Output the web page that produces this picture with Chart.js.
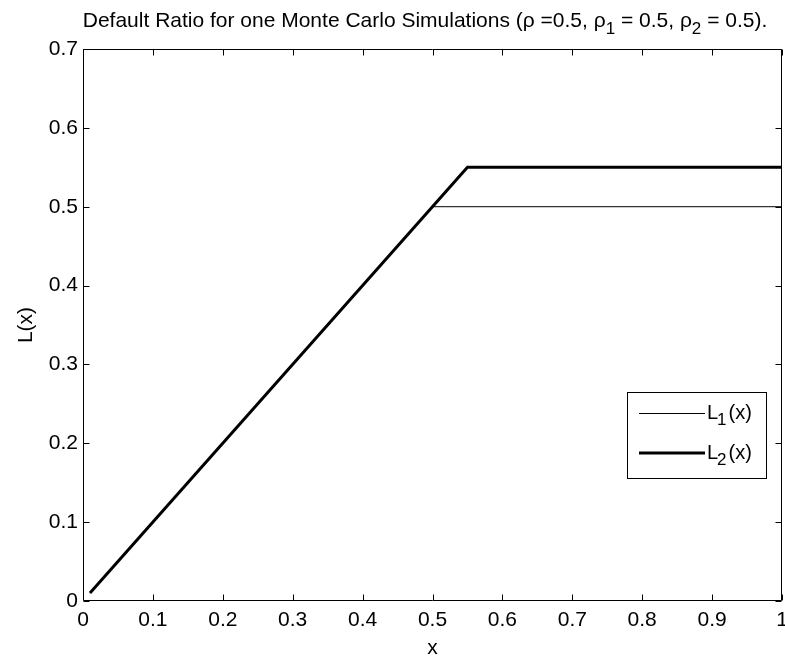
<!DOCTYPE html>
<html><head><meta charset="utf-8">
<script src="https://cdn.jsdelivr.net/npm/chart.js@4"></script>
<style>html,body{margin:0;padding:0;background:#fff}#wrap{width:785px;height:661px}canvas{display:block}</style>
</head><body><div id="wrap"><canvas id="c" width="785" height="661"></canvas></div>
<script>
const xTicks = [0, 0.1, 0.2, 0.3, 0.4, 0.5, 0.6, 0.7, 0.8, 0.9, 1];
const yTicks = [0, 0.1, 0.2, 0.3, 0.4, 0.5, 0.6, 0.7];
const xTickLabels = ['0', '0.1', '0.2', '0.3', '0.4', '0.5', '0.6', '0.7', '0.8', '0.9', '1'];
const yTickLabels = ['0', '0.1', '0.2', '0.3', '0.4', '0.5', '0.6', '0.7'];
const L1_x = [0.01, 0.5, 1];
const L1_y = [0.01, 0.5, 0.5];
const L2_x = [0.01, 0.55, 1];
const L2_y = [0.01, 0.55, 0.55];
const seriesNames = ['L1(x)', 'L2(x)'];
const titleParts = [
  ['Default Ratio for one Monte Carlo Simulations (\u03C1 =0.5, \u03C1', false],
  ['1', true],
  [' = 0.5, \u03C1', false],
  ['2', true],
  [' = 0.5).', false]
];
const xTitle = 'x';
const yTitle = 'L(x)';

const FONT = '"Liberation Sans", Arial, sans-serif';
const FS = 21;

function pts(xs, ys) { return xs.map((x, i) => ({x: x, y: ys[i]})); }

const framePlugin = {
  id: 'frame',
  afterDraw(chart) {
    const ctx = chart.ctx;
    const a = chart.chartArea;
    const xs = chart.scales.x, ys = chart.scales.y;
    ctx.save();
    ctx.strokeStyle = '#000';
    ctx.lineWidth = 1;
    ctx.beginPath();
    const L = Math.round(a.left) + 0.5, R = Math.round(a.right) - 0.5;
    const T = Math.round(a.top) + 0.5, B = Math.round(a.bottom) - 0.5;
    ctx.rect(L, T, R - L, B - T);
    const tl = 6;
    xTicks.forEach(v => {
      const px = Math.round(xs.getPixelForValue(v)) + 0.5;
      ctx.moveTo(px, B); ctx.lineTo(px, B - tl);
      ctx.moveTo(px, T); ctx.lineTo(px, T + tl);
    });
    yTicks.forEach(v => {
      const py = Math.round(ys.getPixelForValue(v)) + 0.5;
      ctx.moveTo(L, py); ctx.lineTo(L + tl, py);
      ctx.moveTo(R, py); ctx.lineTo(R - tl, py);
    });
    ctx.stroke();

    // title with subscripts
    const big = FS + 'px ' + FONT, small = Math.round(FS * 0.82) + 'px ' + FONT;
    let total = 0;
    titleParts.forEach(([t, sub]) => { ctx.font = sub ? small : big; total += ctx.measureText(t).width; });
    let x = 425 - total / 2;
    const ty = 21;
    ctx.fillStyle = '#000';
    ctx.textBaseline = 'middle';
    ctx.textAlign = 'left';
    titleParts.forEach(([t, sub]) => {
      ctx.font = sub ? small : big;
      ctx.fillText(t, x, sub ? ty + 8 : ty);
      x += ctx.measureText(t).width;
    });

    // legend
    const bx = 627.5, by = 392.5, bw = 139, bh = 86;
    ctx.fillStyle = '#fff';
    ctx.fillRect(bx, by, bw, bh);
    ctx.lineWidth = 1;
    ctx.strokeStyle = '#000';
    ctx.strokeRect(bx, by, bw, bh);
    const lfs = 20;
    const lbig = lfs + 'px ' + FONT, lsmall = Math.round(lfs * 0.85) + 'px ' + FONT;
    const rows = [[413, 1, '1'], [453, 3, '2']];
    rows.forEach(([y, w, s]) => {
      ctx.lineWidth = w;
      ctx.beginPath();
      ctx.moveTo(639, y + (w === 1 ? 0.5 : 0));
      ctx.lineTo(705, y + (w === 1 ? 0.5 : 0));
      ctx.stroke();
      ctx.fillStyle = '#000';
      ctx.textBaseline = 'middle';
      let tx = 707;
      ctx.font = lbig;
      ctx.fillText('L', tx, y); tx += ctx.measureText('L').width - 1;
      ctx.font = lsmall;
      ctx.fillText(s, tx, y + 7); tx += ctx.measureText(s).width;
      ctx.font = lbig;
      ctx.fillText('(x)', tx + 2, y);
    });
    ctx.restore();
  }
};

new Chart(document.getElementById('c'), {
  type: 'scatter',
  data: {
    datasets: [
      { label: seriesNames[0], data: pts(L1_x, L1_y), showLine: true, borderColor: '#000', borderWidth: 1, pointRadius: 0, tension: 0, fill: false, order: 1 },
      { label: seriesNames[1], data: pts(L2_x, L2_y), showLine: true, borderColor: '#000', borderWidth: 3, pointRadius: 0, tension: 0, fill: false, order: 0 }
    ]
  },
  options: {
    responsive: false,
    animation: false,
    devicePixelRatio: 1,
    layout: { padding: { left: 0, right: 3, top: 49, bottom: 0 } },
    plugins: { legend: { display: false }, tooltip: { enabled: false }, title: { display: false } },
    scales: {
      x: {
        type: 'linear', min: 0, max: 1,
        afterBuildTicks(s) { s.ticks = xTicks.map(v => ({value: v})); },
        afterFit(s) { s.height = 60; s.paddingLeft = 0; s.paddingRight = 0; },
        grid: { display: false, drawTicks: false },
        border: { display: false },
        ticks: { color: '#000', font: { family: FONT, size: FS }, padding: 7, maxRotation: 0, autoSkip: false,
          callback: (v, i) => xTickLabels[i] },
        title: { display: true, text: xTitle, color: '#000', font: { family: FONT, size: FS, lineHeight: 1 }, padding: { top: 0, bottom: 2 } }
      },
      y: {
        type: 'linear', min: 0, max: 0.7,
        afterBuildTicks(s) { s.ticks = yTicks.map(v => ({value: v})); },
        afterFit(s) { s.width = 83; s.paddingTop = 0; s.paddingBottom = 0; },
        grid: { display: false, drawTicks: false },
        border: { display: false },
        ticks: { color: '#000', font: { family: FONT, size: FS }, padding: 5, autoSkip: false,
          callback: (v, i) => yTickLabels[i] },
        title: { display: true, text: yTitle, color: '#000', font: { family: FONT, size: FS, lineHeight: 1 }, padding: { top: 16, bottom: 0 } }
      }
    }
  },
  plugins: [framePlugin]
});
</script>
</body></html>
